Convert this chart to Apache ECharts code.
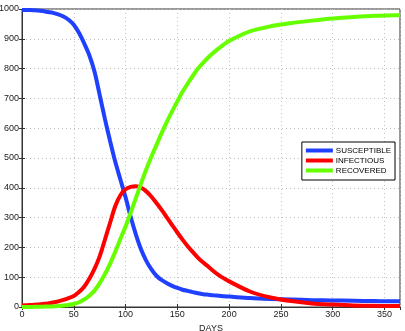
<!DOCTYPE html>
<html><head><meta charset="utf-8">
<script src="https://cdn.jsdelivr.net/npm/echarts@6/dist/echarts.min.js"></script>
<style>html,body{margin:0;padding:0;background:#fff}#c{width:405px;height:331px}</style>
</head><body><div id="c"></div>
<script>
const days = [0,5,10,15,20,25,30,35,40,45,50,55,60,65,70,75,80,85,90,95,100,105,110,115,120,125,130,135,140,145,150,155,160,165,170,175,180,185,190,195,200,220,240,260,280,300,320,340,360,365];
const susceptible = [997,997,996,995,993,990,987,982,975,964,947,920,885,845,790,712,632,558,488,428,368,302,243,193,155,126,104,90,80,71,64,58,54,50,46,43,41,39,38,36,35,30,27,25,23,22,21,20,19,19];
const infectious = [5,6,7,8,10,12,15,19,24,30,37,50,68,95,128,170,225,282,338,375,395,403,405,400,388,370,348,325,300,275,250,226,204,184,165,149,135,120,107,96,86,52,32,20,12,8,5,4,3,3];
const recovered = [0,0,0,1,1,2,2,3,5,7,10,16,25,38,55,80,110,145,185,228,270,317,366,415,462,505,545,585,622,657,690,722,750,776,800,820,838,854,868,881,893,925,942,953,961,968,973,977,979,980];
const seriesNames = ['SUSCEPTIBLE','INFECTIOUS','RECOVERED'];
const seriesColors = ['#2040ff','#ff0000','#66ff00'];
const xTitle = 'DAYS';

const ch = echarts.init(document.getElementById('c'));
const font = 'Liberation Sans, Arial, sans-serif';
const pair = arr => days.map((d,i)=>[d,arr[i]]);
const vals = [susceptible, infectious, recovered];
const gridLine = {show:true, lineStyle:{color:'#c0c0c0', type:[1,3], width:1}};
ch.setOption({
  animation:false,
  grid:{left:22, right:5, top:9, bottom:24, containLabel:false, outerBoundsMode:'none', show:true, borderColor:'#333', borderWidth:1, backgroundColor:'#fff'},
  xAxis:[{type:'value', min:0, max:365, interval:50, position:'bottom',
    name:xTitle, nameLocation:'middle', nameGap:14, nameTextStyle:{fontFamily:font, fontSize:9, color:'#222'},
    axisLine:{show:true, onZero:false, lineStyle:{color:'#333'}},
    axisTick:{show:true, inside:true, length:3, lineStyle:{color:'#333'}},
    axisLabel:{fontFamily:font, fontSize:9, color:'#222', margin:3, showMaxLabel:false},
    splitLine:gridLine},
   {type:'value', min:0, max:365, interval:50, position:'top',
    axisLine:{show:false}, axisTick:{show:true, inside:true, length:3, lineStyle:{color:'#333'}},
    axisLabel:{show:false}, splitLine:{show:false}}],
  yAxis:[{type:'value', min:0, max:1000, interval:100, position:'left',
    axisLine:{show:true, lineStyle:{color:'#333'}},
    axisTick:{show:true, inside:true, length:3, lineStyle:{color:'#333'}},
    axisLabel:{fontFamily:font, fontSize:9, color:'#222', margin:3, formatter:v=>String(v)},
    splitLine:gridLine},
   {type:'value', min:0, max:1000, interval:100, position:'right',
    axisLine:{show:false}, axisTick:{show:true, inside:true, length:3, lineStyle:{color:'#333'}},
    axisLabel:{show:false}, splitLine:{show:false}}],
  legend:{orient:'vertical', right:10, top:142, backgroundColor:'#fff', borderColor:'#000', borderWidth:1,
    padding:[4,4,5,4], itemGap:1, itemWidth:27, itemHeight:4, icon:'rect',
    textStyle:{fontFamily:font, fontSize:8, color:'#000', padding:[0,0,0,-2], lineHeight:9},
    data:seriesNames},
  series: seriesNames.map((n,i)=>({name:n, type:'line', data:pair(vals[i]), smooth:0.3, showSymbol:false, symbol:'none',
    color:seriesColors[i], lineStyle:{width:4, color:seriesColors[i]}, z:2+i}))
});
</script></body></html>
